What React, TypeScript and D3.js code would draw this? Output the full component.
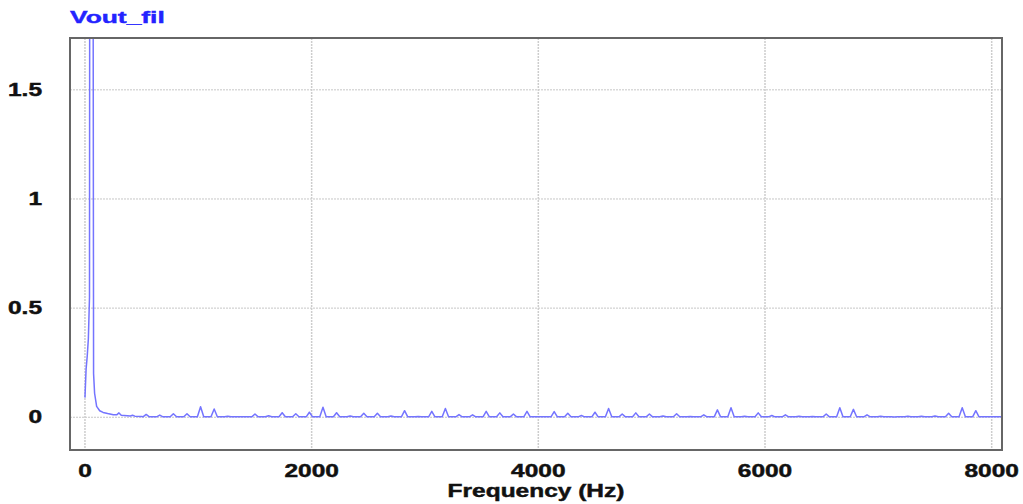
import * as d3 from "d3";
import React from "react";

const W = 1023;
const H = 504;

const title = "Vout_fil";
const xTitle = "Frequency (Hz)";
const xTicks = [0, 2000, 4000, 6000, 8000];
const yTicks = [0, 0.5, 1, 1.5];
const yTickLabels = ["0", "0.5", "1", "1.5"];

// fundamental region (Hz / magnitude)
const lowHz = [0, 10, 20, 30, 40, 47, 60, 70, 76, 85, 103, 130, 160, 200, 250, 280, 300, 320, 400, 420, 440, 500];
const lowVal = [0.09, 0.22, 0.28, 0.36, 0.55, 6, 12, 3, 0.2, 0.11, 0.05, 0.03, 0.022, 0.017, 0.012, 0.011, 0.02, 0.009, 0.006, 0.009, 0.005, 0.003];

// odd harmonics of 60 Hz
const harmHz = [
  540, 660, 780, 900, 1020, 1140, 1260, 1380, 1500, 1620, 1740, 1860, 1980, 2100, 2220, 2340,
  2460, 2580, 2700, 2820, 2940, 3060, 3180, 3300, 3420, 3540, 3660, 3780, 3900, 4020, 4140,
  4260, 4380, 4500, 4620, 4740, 4860, 4980, 5100, 5220, 5340, 5460, 5580, 5700, 5820, 5940,
  6060, 6180, 6300, 6420, 6540, 6660, 6780, 6900, 7020, 7140, 7260, 7380, 7500, 7620, 7740, 7860,
];
const harmVal = [
  0.013, 0.01, 0.016, 0.016, 0.048, 0.038, 0.005, 0.002, 0.015, 0.007, 0.021, 0.016, 0.023, 0.046, 0.021, 0.006,
  0.018, 0.018, 0.006, 0.03, 0.004, 0.027, 0.04, 0.012, 0.011, 0.027, 0.02, 0.015, 0.027, 0.002, 0.026,
  0.018, 0.008, 0.023, 0.04, 0.015, 0.02, 0.015, 0.006, 0.016, 0.003, 0.011, 0.034, 0.044, 0.005, 0.02,
  0.008, 0.011, 0.005, 0.003, 0.015, 0.044, 0.036, 0.011, 0.005, 0.001, 0.005, 0.005, 0.006, 0.018, 0.044, 0.03,
];
const floorVal = 0.002;
const endHz = 8091;

const plot = { left: 70, right: 1002, top: 38, bottom: 450 };
const font = "'Liberation Sans', Arial, sans-serif";
const stretch = 1.4;

export default function App() {
  const x = d3.scaleLinear().domain([-132, 8091]).range([plot.left, plot.right]);
  const y = d3.scaleLinear().domain([-0.15, 1.7375]).range([plot.bottom, plot.top]);

  const pts: [number, number][] = lowHz.map((f, i) => [f, lowVal[i]]);
  harmHz.forEach((f, i) => {
    pts.push([f - 28, floorVal], [f, harmVal[i]], [f + 28, floorVal]);
  });
  pts.push([endHz, floorVal]);

  const line = d3
    .line<[number, number]>()
    .x((d) => x(d[0]))
    .y((d) => y(d[1]));

  return (
    <svg
      width={W}
      height={H}
      style={{ position: "absolute", left: 0, top: 0, background: "#fff" }}
    >
      <defs>
        <clipPath id="plotClip">
          <rect x={plot.left} y={plot.top} width={plot.right - plot.left} height={plot.bottom - plot.top} />
        </clipPath>
      </defs>

      {yTicks.map((t) => (
        <line
          key={"gy" + t}
          x1={plot.left}
          x2={plot.right}
          y1={y(t)}
          y2={y(t)}
          stroke="#c6c6c6"
          strokeDasharray="2 1"
        />
      ))}
      {xTicks.map((t) => (
        <line
          key={"gx" + t}
          x1={x(t)}
          x2={x(t)}
          y1={plot.top}
          y2={plot.bottom}
          stroke="#cdcdcd"
          strokeWidth={1.5}
          strokeDasharray="2 1"
        />
      ))}

      <path
        d={line(pts) || ""}
        fill="none"
        stroke="#7474ff"
        strokeWidth={1.5}
        strokeLinejoin="round"
        clipPath="url(#plotClip)"
      />

      <rect
        x={plot.left}
        y={plot.top}
        width={plot.right - plot.left}
        height={plot.bottom - plot.top}
        fill="none"
        stroke="#666"
        strokeWidth={2}
      />

      <g fontFamily={font} fontWeight="bold" fontSize={17.5} fill="#111" stroke="#111" strokeWidth={0.45}>
        {yTicks.map((t, i) => (
          <text
            key={"ty" + t}
            transform={`translate(42,${y(t) + 6}) scale(${stretch},1)`}
            textAnchor="end"
          >
            {yTickLabels[i]}
          </text>
        ))}
        {xTicks.map((t) => (
          <text
            key={"tx" + t}
            transform={`translate(${x(t)},477) scale(${stretch},1)`}
            textAnchor="middle"
          >
            {t}
          </text>
        ))}
        <text
          transform={`translate(${(plot.left + plot.right) / 2},497) scale(${stretch},1)`}
          textAnchor="middle"
        >
          {xTitle}
        </text>
      </g>

      <text
        transform={`translate(70,23) scale(1.6,1)`}
        fontFamily={font}
        fontWeight="bold"
        fontSize={16.5}
        fill="#2323ff"
        stroke="#2323ff"
        strokeWidth={0.4}
      >
        {title}
      </text>
    </svg>
  );
}
